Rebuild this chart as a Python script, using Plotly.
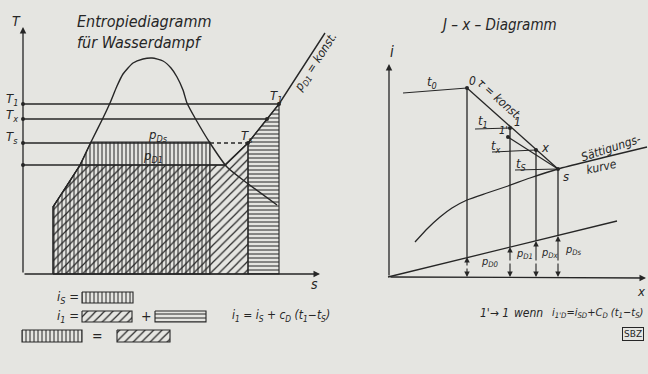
import plotly.graph_objects as go

# ---------------- data (figure coordinates) ----------------
# Left: entropy diagram (s, T) – saturation dome
dome_s = [53, 80, 91, 103, 110, 117, 123, 133, 143, 152, 163, 171, 177, 183, 187, 195, 210, 227, 247, 277]
dome_T = [207, 165, 142, 118, 103, 86, 74, 63, 59, 58, 61, 68, 77, 90, 103, 118, 143, 167, 183, 205]
# isobar p_D1 = konst. (superheated part)
iso_s = [225, 248, 279, 325]
iso_T = [165, 143, 104, 33]
# temperature levels
T_levels = [104, 119, 143, 165]
T_line_end = [279, 267, 210, 225]
# hatched areas
area_is_s = [53, 53, 80, 91, 210, 210]
area_is_T = [274, 207, 165, 142, 142, 274]
area_diag_s = [53, 53, 80, 225, 248, 248]
area_diag_T = [274, 207, 165, 165, 143, 274]
area_hor_s = [248, 248, 279, 279]
area_hor_T = [274, 143, 104, 274]

# Right: J-x diagram
pt_x = [467, 510, 508, 536, 558]          # points 0, 1, 1', x, s
pt_i = [88, 128, 137, 150, 169]
sat_x = [415, 428, 440, 452, 467, 487, 508, 530, 558, 647]
sat_i = [242, 228, 217, 208, 200, 193, 186, 178, 169, 147]
pd_x = [388, 617]
pd_i = [277, 221]
iso_t_x0 = [403, 475, 492, 515]          # start of isotherms t0, t1, tx, ts
iso_t_i0 = [93, 129, 152, 170]
iso_t_x1 = [467, 510, 536, 558]
iso_t_i1 = [88, 128, 150, 169]

INK = "#262626"
BG = "#e5e5e1"
FONT = "DejaVu Sans Condensed, Liberation Sans Narrow, Liberation Sans, sans-serif"

fig = go.Figure()

def line(xs, ys, dash="solid", w=1.3, shape="linear", smooth=1.0):
    fig.add_trace(go.Scatter(x=xs, y=ys, mode="lines", hoverinfo="skip",
                             line=dict(color=INK, width=w, dash=dash, shape=shape,
                                       smoothing=smooth)))

def hatch(xs, ys, shape, size=4, sol=0.3, outline=True):
    fig.add_trace(go.Scatter(x=xs + xs[:1], y=ys + ys[:1], mode="lines", fill="toself",
                             hoverinfo="skip",
                             line=dict(color=INK if outline else "rgba(0,0,0,0)", width=1.1),
                             fillcolor="rgba(0,0,0,0)",
                             fillpattern=dict(shape=shape, size=size, solidity=sol,
                                              fgcolor=INK, fgopacity=1,
                                              bgcolor="rgba(0,0,0,0)")))

VS, VSOL = 4, 0.25
DS, DSOL = 6, 0.2

# hatched areas (left diagram)
hatch(area_diag_s, area_diag_T, "/", size=DS, sol=DSOL)
hatch(area_is_s, area_is_T, "|", size=VS, sol=VSOL)
hatch(area_hor_s, area_hor_T, "-", size=VS, sol=VSOL)

# dome and isobar
line(dome_s, dome_T, shape="spline", w=1.4, smooth=0.6)
line(iso_s, iso_T, w=1.4)
# temperature lines
for k, (yv, xe) in enumerate(zip(T_levels, T_line_end)):
    line([23, xe], [yv, yv])
    if k == 2:
        line([xe, 248], [yv, yv], dash="4px,3px")
fig.add_trace(go.Scatter(x=[23, 23, 23, 23, 279, 267, 248], y=T_levels + [104, 119, 143],
                         mode="markers", hoverinfo="skip",
                         marker=dict(color=INK, size=4)))

# legend boxes (bottom-left)
hatch([82, 133, 133, 82], [292, 292, 303, 303], "|", size=VS, sol=VSOL)
hatch([82, 132, 132, 82], [311, 311, 322, 322], "/", size=DS, sol=DSOL)
hatch([155, 206, 206, 155], [311, 311, 322, 322], "-", size=VS, sol=VSOL)
hatch([22, 82, 82, 22], [330, 330, 342, 342], "|", size=VS, sol=VSOL)
hatch([117, 170, 170, 117], [330, 330, 342, 342], "/", size=DS, sol=DSOL)

# right diagram
line(pd_x, pd_i)
line(sat_x, sat_i, shape="spline", smooth=0.6)
line([pt_x[0], pt_x[4]], [pt_i[0], pt_i[4]])
line([pt_x[2], pt_x[4]], [pt_i[2], pt_i[4]], w=1.1)
for a, b, c, d in zip(iso_t_x0, iso_t_i0, iso_t_x1, iso_t_i1):
    line([a, c], [b, d], w=1.1)
line([467, 467], [88, 257])
line([510, 510], [128, 247])
line([536, 536], [150, 241])
line([558, 558], [169, 236])
fig.add_trace(go.Scatter(x=pt_x, y=pt_i, mode="markers", hoverinfo="skip",
                         marker=dict(color=INK, size=4)))

ann = []
def arrow(x0, y0, x1, y1, w=1.3):
    ann.append(dict(x=x1, y=y1, ax=x0, ay=y0, xref="x", yref="y", axref="x", ayref="y",
                    showarrow=True, arrowhead=2, arrowsize=1, arrowwidth=w,
                    arrowcolor=INK, text=""))

# axes
arrow(23, 274, 23, 27)
arrow(23, 274, 320, 274)
arrow(389, 277, 389, 64)
arrow(389, 277, 646, 278)
# partial-pressure arrows
arrow(467, 267, 467, 257, w=1.1)
arrow(467, 267, 467, 277, w=1.1)
for xv, yt in [(510, 247), (536, 241), (558, 236)]:
    arrow(xv, 262, xv, yt, w=1.1)
    arrow(xv, 262, xv, 277, w=1.1)

def txt(x, y, s, size=13, xa="center", ang=0):
    ann.append(dict(x=x, y=y, xref="x", yref="y", text=s, showarrow=False,
                    xanchor=xa, yanchor="middle", textangle=ang,
                    font=dict(family=FONT, size=size, color=INK, style="italic")))

txt(75, 21, "Entropiediagramm", 16, "left")
txt(75, 42, "für Wasserdampf", 16, "left")
txt(16, 21, "T", 14)
txt(12, 99, "T<sub>1</sub>", 13)
txt(12, 115, "T<sub>x</sub>", 13)
txt(12, 137, "T<sub>s</sub>", 13)
txt(158, 135, "p<sub>Ds</sub>", 13)
txt(153, 156, "p<sub>D1</sub>", 13)
txt(276, 96, "T<sub>1</sub>", 13)
txt(247, 136, "T<sub>s</sub>", 13)
txt(316, 63, "p<sub>D1</sub> = konst.", 12, ang=-57)
txt(314, 284, "s", 14)

txt(55, 297, "i<sub>S</sub> =", 13, "left")
txt(55, 316, "i<sub>1</sub> =", 13, "left")
txt(146, 316, "+", 14)
txt(230, 316, "i<sub>1</sub> = i<sub>S</sub> + c<sub>D</sub> (t<sub>1</sub>−t<sub>S</sub>)", 12, "left")
txt(97, 336, "=", 14)

txt(498, 25, "J – x – Diagramm", 15)
txt(392, 52, "i", 15)
txt(432, 82, "t<sub>0</sub>", 13)
txt(472, 81, "0", 12)
txt(499, 99, "τ = konst.", 12, ang=42)
txt(483, 121, "t<sub>1</sub>", 13)
txt(517, 122, "1", 12)
txt(503, 130, "1'", 11)
txt(496, 146, "t<sub>x</sub>", 13)
txt(545, 147, "x", 13)
txt(521, 164, "t<sub>S</sub>", 13)
txt(566, 176, "s", 13)
txt(611, 148, "Sättigungs-", 12, ang=-18)
txt(601, 167, "kurve", 12, ang=-12)
txt(479, 262, "p<sub>D0</sub>", 11, "left")
txt(514, 254, "p<sub>D1</sub>", 11, "left")
txt(539, 253, "p<sub>Dx</sub>", 11, "left")
txt(563, 250, "p<sub>Ds</sub>", 11, "left")
txt(641, 291, "x", 13)
txt(478, 313, "1'→ 1", 12, "left")
txt(512, 313, "wenn", 12, "left")
txt(645, 313, "i<sub>1'D</sub>=i<sub>SD</sub>+C<sub>D</sub> (t<sub>1</sub>−t<sub>S</sub>)", 11, "right")

ann.append(dict(x=633, y=334, xref="x", yref="y", text="SBZ", showarrow=False,
                font=dict(family="DejaVu Sans, sans-serif", size=9, color=INK),
                bordercolor=INK, borderwidth=1, borderpad=1))

fig.update_layout(
    width=648, height=374, margin=dict(l=0, r=0, t=0, b=0),
    paper_bgcolor=BG, plot_bgcolor=BG, showlegend=False,
    xaxis=dict(range=[0, 648], visible=False, fixedrange=True),
    yaxis=dict(range=[374, 0], visible=False, fixedrange=True),
    annotations=ann,
)
fig.write_html("out.html", config={"displayModeBar": False},
               post_script="document.body.style.margin='0';document.body.style.overflow='hidden';")
